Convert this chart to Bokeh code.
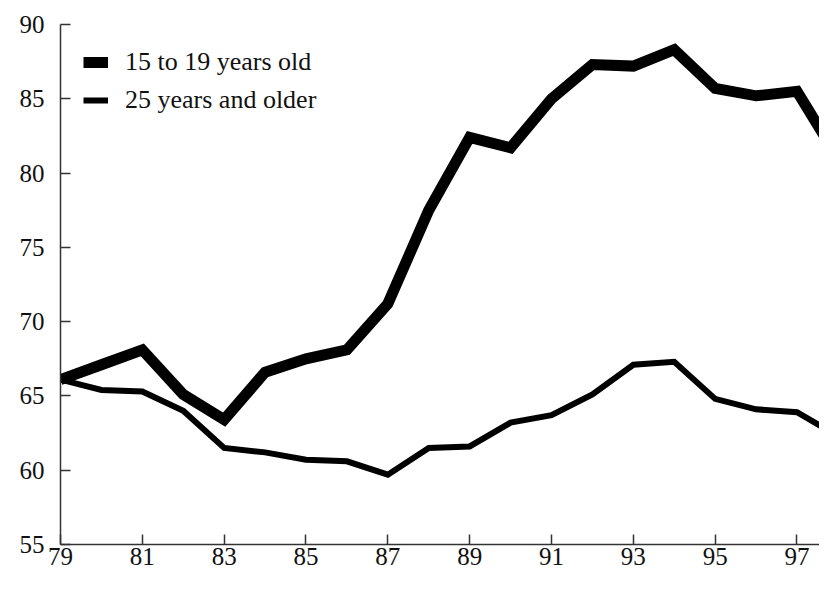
from bokeh.plotting import figure
from bokeh.models import FixedTicker, Legend, LegendItem, Range1d
from bokeh.embed import file_html
from bokeh.resources import INLINE

years = list(range(79, 99))
teens = [66.1, 67.1, 68.1, 65.1, 63.4, 66.6, 67.5, 68.1, 71.2, 77.5,
         82.4, 81.7, 85.0, 87.3, 87.2, 88.3, 85.7, 85.2, 85.5, 81.0]
adults = [66.1, 65.4, 65.3, 64.0, 61.5, 61.2, 60.7, 60.6, 59.7, 61.5,
          61.6, 63.2, 63.7, 65.1, 67.1, 67.3, 64.8, 64.1, 63.9, 62.3]
x_ticks = [79, 81, 83, 85, 87, 89, 91, 93, 95, 97]
y_ticks = [55, 60, 65, 70, 75, 80, 85, 90]
labels = ["15 to 19 years old", "25 years and older"]

FONT = "Liberation Serif"

p = figure(width=819, height=576, output_backend="svg", toolbar_location=None,
           x_range=Range1d(79, 97.55), y_range=Range1d(55, 90),
           min_border_left=60, min_border_top=24, min_border_right=0,
           min_border_bottom=32)
p.outline_line_color = None
p.xgrid.grid_line_color = None
p.ygrid.grid_line_color = None
p.background_fill_color = "white"
p.border_fill_color = "white"

r1 = p.line(years, teens, line_color="black", line_width=11, line_join="miter")
r2 = p.line(years, adults, line_color="black", line_width=6, line_join="miter")

for ax, ticks in ((p.xaxis[0], x_ticks), (p.yaxis[0], y_ticks)):
    ax.ticker = FixedTicker(ticks=ticks)
    ax.minor_tick_line_color = None
    ax.major_tick_in = 10
    ax.major_tick_out = 0
    ax.major_tick_line_width = 1.5
    ax.major_tick_line_color = "#333333"
    ax.axis_line_width = 1.5
    ax.axis_line_color = "#333333"
    ax.major_label_text_font = FONT
    ax.major_label_text_font_size = "25px"
    ax.major_label_text_color = "#111111"

p.yaxis[0].major_label_standoff = 16
p.xaxis[0].major_label_standoff = 3

legend = Legend(items=[LegendItem(label=labels[0], renderers=[r1]),
                       LegendItem(label=labels[1], renderers=[r2])],
                location="top_left", border_line_color=None,
                background_fill_alpha=0, padding=0, margin=23,
                glyph_width=25, glyph_height=30, label_height=30,
                spacing=8, label_standoff=17,
                label_text_font=FONT, label_text_font_size="26px",
                label_text_color="#111111")
p.add_layout(legend)

open("out.html", "w").write(file_html(p, INLINE))
